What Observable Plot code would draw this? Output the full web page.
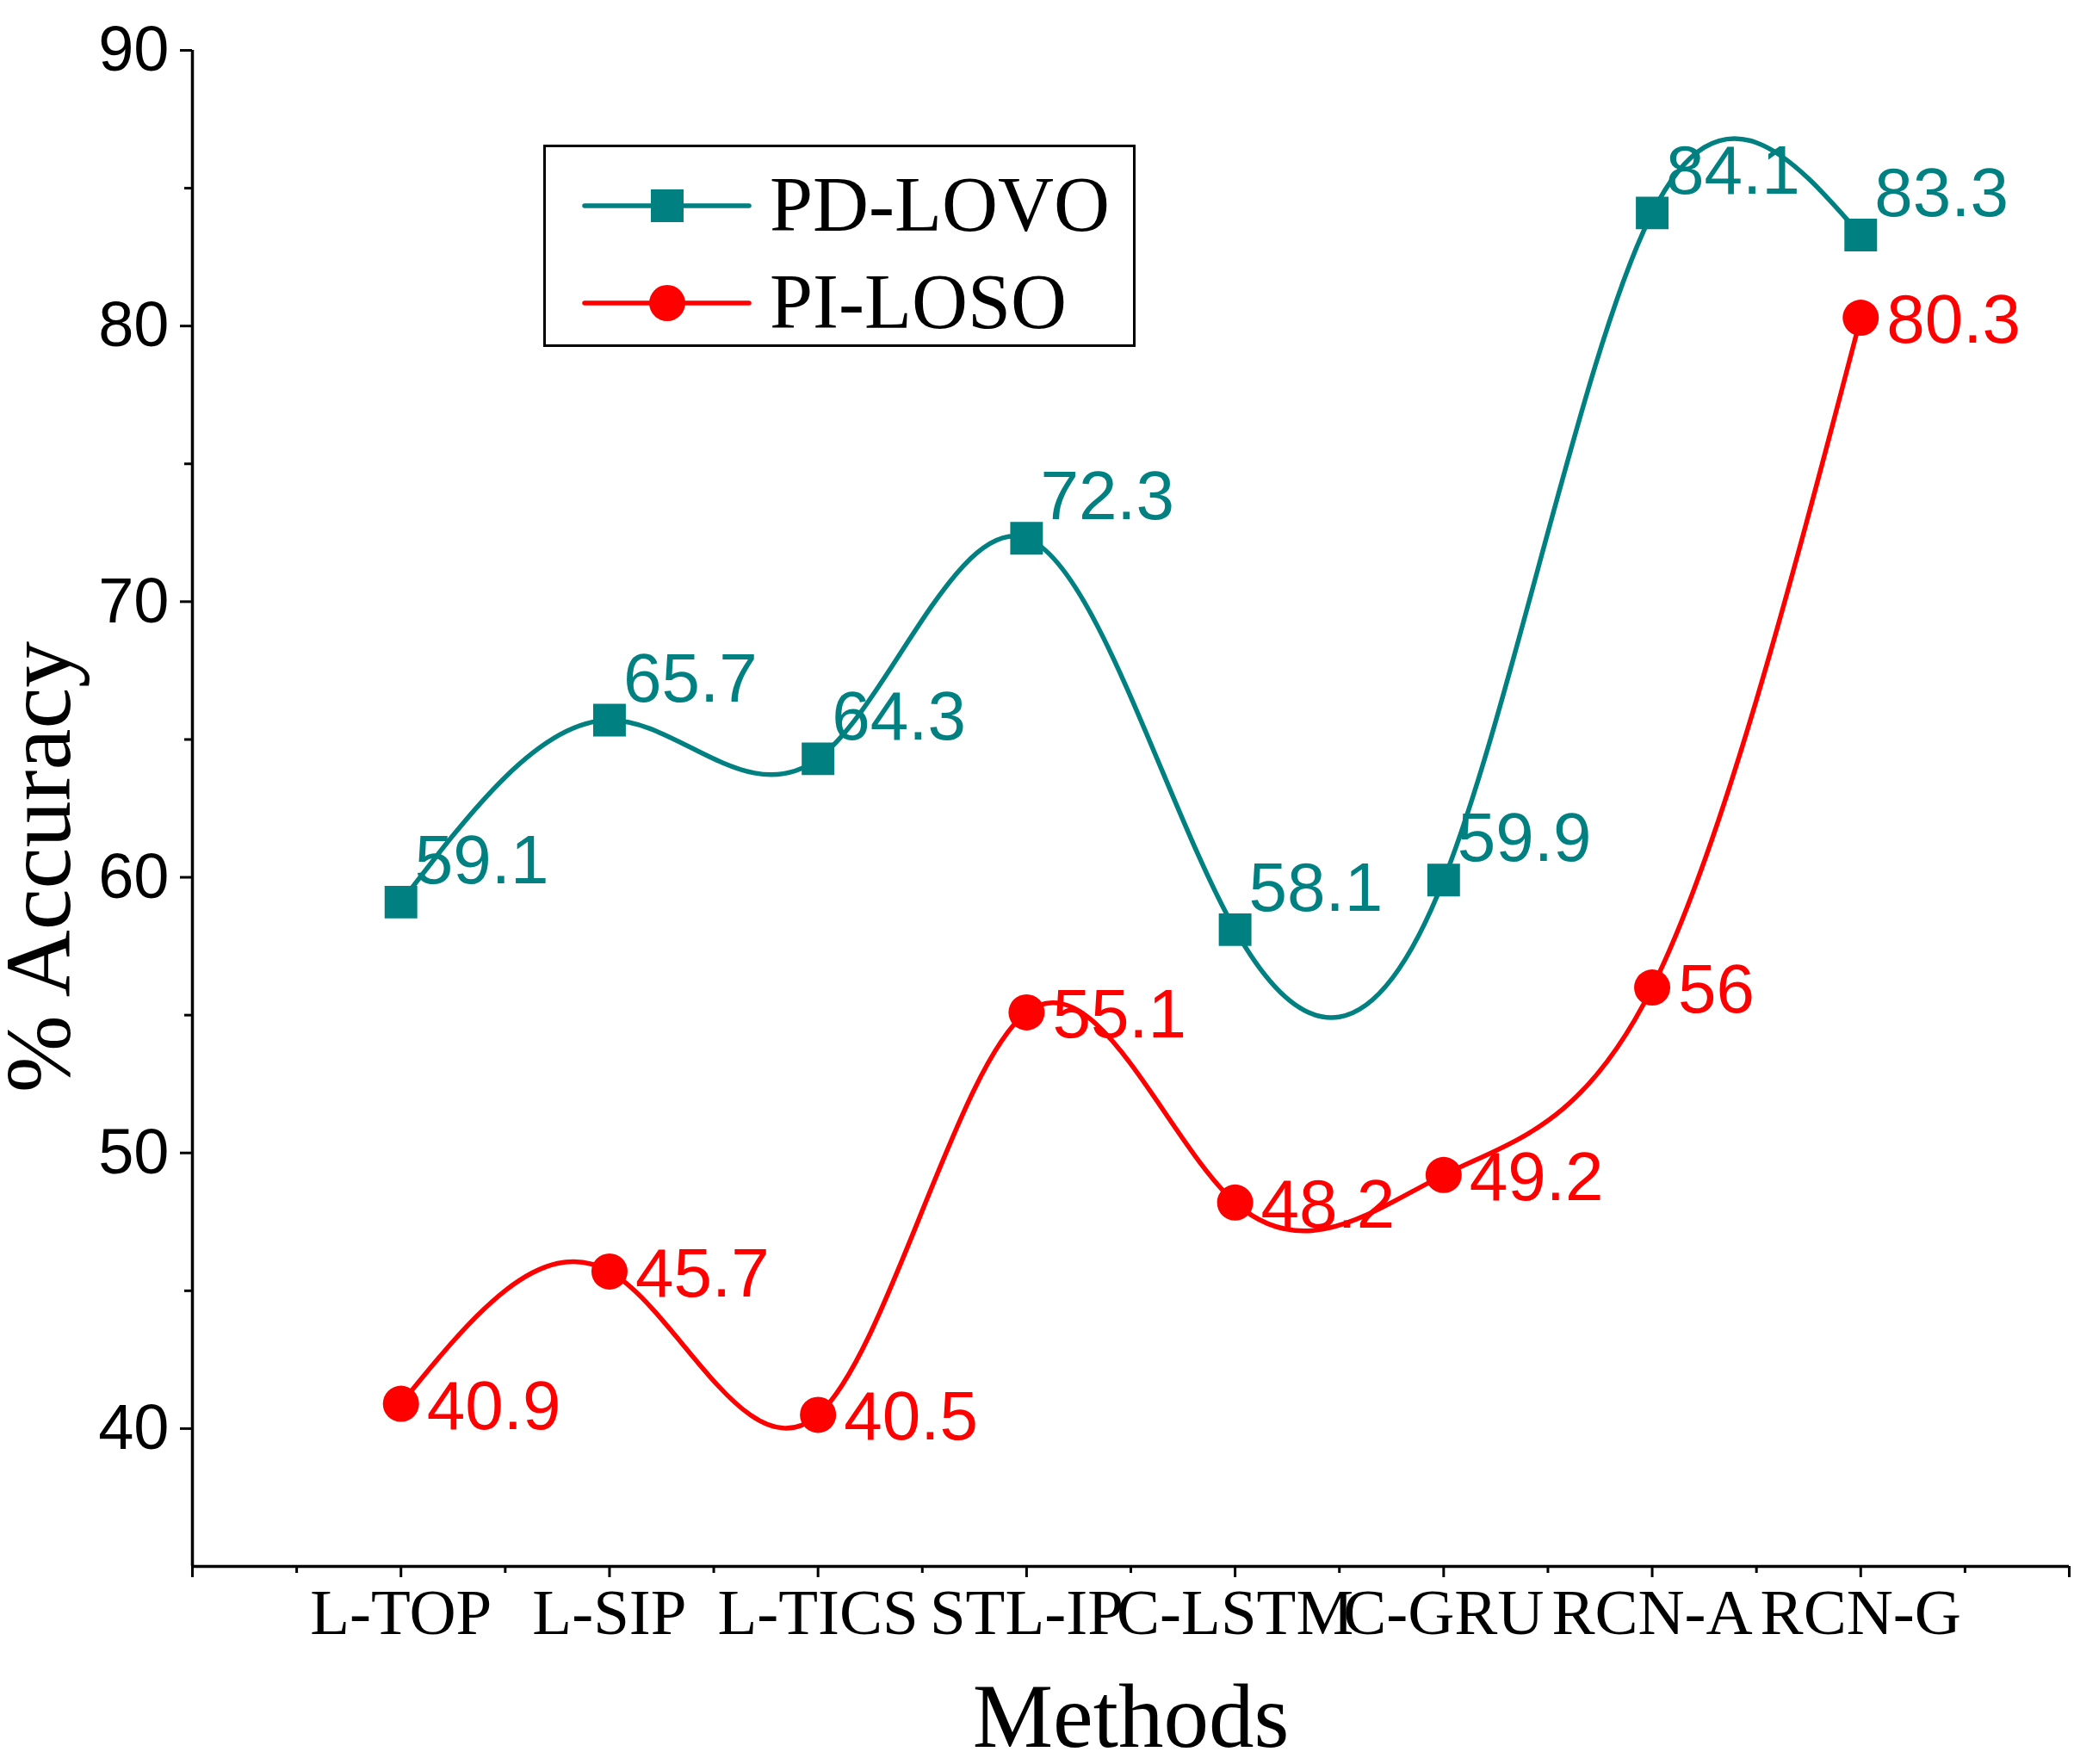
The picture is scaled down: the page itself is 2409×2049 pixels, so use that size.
<!DOCTYPE html>
<html><head><meta charset="utf-8">
<script src="https://cdn.jsdelivr.net/npm/d3@7"></script>
<script src="https://cdn.jsdelivr.net/npm/@observablehq/plot@0.6"></script>
<style>
html,body{margin:0;padding:0;background:#fff;}
#wrap{position:relative;width:2409px;height:2049px;}
#wrap svg.legend{position:absolute;left:0;top:0;pointer-events:none;}
</style></head><body><div id="wrap"></div>
<script>
const categories = ["L-TOP","L-SIP","L-TICS","STL-IP","C-LSTM","C-GRU","RCN-A","RCN-G"];
const pdLovo = [59.1,65.7,64.3,72.3,58.1,59.9,84.1,83.3];
const piLoso = [40.9,45.7,40.5,55.1,48.2,49.2,56,80.3];
const seriesNames = ["PD-LOVO","PI-LOSO"];
const seriesColors = ["#008080","#ff0000"];
const yTicks = [40,50,60,70,80,90];
const yMinorTicks = [45,55,65,75,85];
const xTicks = [0,1,2,3,4,5,6,7,8,9];
const xMinorTicks = [0.5,1.5,2.5,3.5,4.5,5.5,6.5,7.5,8.5];

const pd = categories.map((c,i)=>({series:seriesNames[0], idx:i+1, method:c, value:pdLovo[i]}));
const pi = categories.map((c,i)=>({series:seriesNames[1], idx:i+1, method:c, value:piLoso[i]}));

const W=2409,H=2049;
const serif = "'Liberation Serif','Times New Roman',serif";
const sans = "'Liberation Sans',Arial,sans-serif";

const chart = Plot.plot({
  width:W, height:H,
  marginLeft:223, marginRight:6, marginTop:58, marginBottom:230,
  x:{domain:[0,9]},
  y:{domain:[35,90]},
  style:{background:"#fff", overflow:"visible", color:"#000"},
  marks:[
    Plot.axisY({ticks:yTicks, tickSize:14, tickPadding:13, strokeWidth:3, fontSize:74, fontFamily:sans, label:null}),
    Plot.axisY({ticks:yMinorTicks, tickSize:9, strokeWidth:3, tickFormat:()=>"", label:null}),
    Plot.axisX({ticks:xTicks, tickSize:13, tickPadding:12, strokeWidth:3, tickFormat:i=>categories[i-1] ?? "", fontSize:75, fontFamily:serif, label:null}),
    Plot.axisX({ticks:xMinorTicks, tickSize:8, strokeWidth:3, tickFormat:()=>"", label:null}),
    Plot.ruleX([0],{stroke:"#000", strokeWidth:3.5}),
    Plot.ruleY([35],{stroke:"#000", strokeWidth:3.5}),
    Plot.line(pd,{x:"idx", y:"value", stroke:seriesColors[0], strokeWidth:5.5, curve:"natural"}),
    Plot.line(pi,{x:"idx", y:"value", stroke:seriesColors[1], strokeWidth:5.5, curve:"natural"}),
    Plot.dot(pd,{x:"idx", y:"value", symbol:"square", r:21.4, fill:seriesColors[0]}),
    Plot.dot(pi,{x:"idx", y:"value", symbol:"circle", r:21, fill:seriesColors[1]}),
    Plot.text(pd,{x:"idx", y:"value", text:d=>String(d.value), textAnchor:"start", lineAnchor:"bottom", dx:16, dy:-22, fill:seriesColors[0], fontSize:80, fontFamily:sans}),
    Plot.text(pi,{x:"idx", y:"value", text:d=>String(d.value), textAnchor:"start", lineAnchor:"bottom", dx:30, dy:29, fill:seriesColors[1], fontSize:80, fontFamily:sans}),
    Plot.text(["Methods"],{frameAnchor:"bottom", textAnchor:"middle", lineAnchor:"bottom", dy:209, fontSize:105, fontFamily:serif, fill:"#000"}),
    Plot.text(["% Accuracy"],{frameAnchor:"left", textAnchor:"middle", rotate:-90, lineAnchor:"bottom", dx:-143, dy:68, fontSize:108, fontFamily:serif, fill:"#000"})
  ]
});
const wrap = document.getElementById("wrap");
wrap.appendChild(chart);

// legend overlay
const lg = d3.create("svg").attr("class","legend").attr("width",W).attr("height",H);
lg.append("rect").attr("x",632.5).attr("y",169.5).attr("width",685).attr("height",232)
  .attr("fill","#fff").attr("stroke","#000").attr("stroke-width",3);
const rowsY = [239,352];
seriesNames.forEach((name,i)=>{
  const g = lg.append("g");
  g.append("line").attr("x1",679).attr("x2",870).attr("y1",rowsY[i]).attr("y2",rowsY[i])
    .attr("stroke",seriesColors[i]).attr("stroke-width",5.5).attr("stroke-linecap","round");
  if(i===0){
    g.append("rect").attr("x",775-19).attr("y",rowsY[i]-19).attr("width",38).attr("height",38).attr("fill",seriesColors[i]);
  } else {
    g.append("circle").attr("cx",775).attr("cy",rowsY[i]).attr("r",21).attr("fill",seriesColors[i]);
  }
  g.append("text").attr("x",894).attr("y",rowsY[i]+29).attr("font-family",serif).attr("font-size",90)
    .attr("fill","#000").text(name);
});
wrap.appendChild(lg.node());
</script></body></html>
